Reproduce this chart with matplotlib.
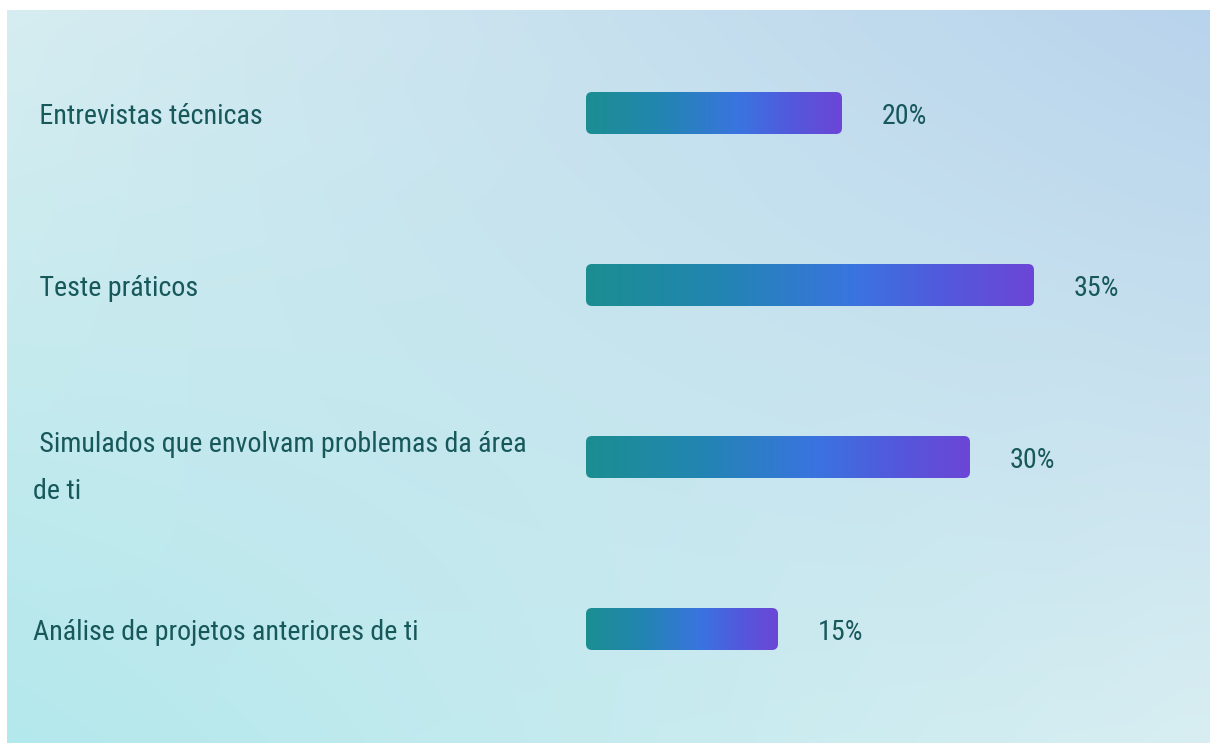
import numpy as np
import matplotlib
matplotlib.use("Agg")
import matplotlib.pyplot as plt
from matplotlib.patches import FancyBboxPatch
from matplotlib.colors import LinearSegmentedColormap, to_rgb
from matplotlib import font_manager as fm
import matplotlib.transforms as mtransforms

# ---- data ----
categories = [
    " Entrevistas técnicas",
    " Teste práticos",
    " Simulados que envolvam problemas da área\nde ti",
    "Análise de projetos anteriores de ti",
]
values = [20, 35, 30, 15]
value_labels = ["20%", "35%", "30%", "15%"]

# ---- style ----
W, H, DPI = 1216, 743, 100
TEXT_COLOR = "#17585b"
PX_PER_UNIT = 12.8          # pixels per percent
BAR_X0_PX = 586             # pixel where bars start
ROW0_PX, ROW_STEP_PX = 113, 172
BAR_H_PX = 42
TARGET_W_PX = 223           # approx. width of "Entrevistas técnicas"
TARGET_EM = 6.6             # desired width in em (condensed look)
BASES = ("Noto Sans", "Roboto", "Open Sans", "Lato", "Inter",
         "DejaVu Sans", "Liberation Sans")

fig = plt.figure(figsize=(W / DPI, H / DPI), dpi=DPI, facecolor="white")
renderer = fig.canvas.get_renderer()


def allowed(name):
    if any(k in name for k in ("Mono", "CJK", "Math", "Symbol", "Display")):
        return False
    for b in BASES:
        if name == b:
            return True
        if name.startswith(b) and ("Condensed" in name or "Narrow" in name):
            return True
    return False


probe = "Entrevistas técnicas"
best = None
seen = set()
for f in fm.fontManager.ttflist:
    if not allowed(f.name) or f.style != "normal":
        continue
    if f.weight not in (400, "normal", "regular", "book"):
        continue
    if f.fname in seen:
        continue
    seen.add(f.fname)
    try:
        prop = fm.FontProperties(fname=f.fname, size=72)
        w, h, d = renderer.get_text_width_height_descent(probe, prop, ismath=False)
    except Exception:
        continue
    em = w / DPI
    score = abs(em - TARGET_EM)
    if best is None or score < best[0]:
        best = (score, f.fname, em)

if best is not None:
    FONT_PATH, em_w = best[1], best[2]
    font_size = min(TARGET_W_PX / em_w * 72 / DPI, 23)

    def fprop():
        return fm.FontProperties(fname=FONT_PATH, size=font_size)
else:
    def fprop():
        return fm.FontProperties(family="DejaVu Sans", size=16)

# background gradient panel (with thin white border like the reference)
bg_ax = fig.add_axes([7 / W, 0, (1210 - 7) / W, (H - 10) / H], zorder=0)
tl, tr = np.array(to_rgb("#d6edf1")), np.array(to_rgb("#b8d3ec"))
bl, br = np.array(to_rgb("#b3e8ec")), np.array(to_rgb("#d8eef2"))
ny, nx = 200, 300
yy, xx = np.mgrid[0:1:ny * 1j, 0:1:nx * 1j]
img = ((1 - yy)[..., None] * ((1 - xx)[..., None] * tl + xx[..., None] * tr)
       + yy[..., None] * ((1 - xx)[..., None] * bl + xx[..., None] * br))
bg_ax.imshow(img, aspect="auto", extent=[0, 1, 1, 0], interpolation="bilinear")
bg_ax.set_axis_off()

# main axes covering whole figure, data coords mapped to pixels
ax = fig.add_axes([0, 0, 1, 1], zorder=1)
ax.patch.set_alpha(0)
ax.set_axis_off()
xmin = -BAR_X0_PX / PX_PER_UNIT
xmax = (W - BAR_X0_PX) / PX_PER_UNIT
ytop = -ROW0_PX / ROW_STEP_PX
ybot = (H - ROW0_PX) / ROW_STEP_PX

bar_h = BAR_H_PX / ROW_STEP_PX
cmap = LinearSegmentedColormap.from_list(
    "bar", [(0.0, "#1b8e91"), (0.3, "#2285b2"), (0.6, "#3a74e0"),
            (0.8, "#5259dc"), (1.0, "#6c46d6")])
grad = np.linspace(0, 1, 256)[None, :]

for i, (cat, v, lab) in enumerate(zip(categories, values, value_labels)):
    patch = FancyBboxPatch((0, i - bar_h / 2), v, bar_h,
                           boxstyle="round,pad=0,rounding_size=0.47",
                           mutation_aspect=PX_PER_UNIT / ROW_STEP_PX,
                           facecolor="none", edgecolor="none")
    ax.add_patch(patch)
    im = ax.imshow(grad, cmap=cmap, aspect="auto",
                   extent=[0, v, i + bar_h / 2, i - bar_h / 2],
                   interpolation="bilinear")
    im.set_clip_path(patch)

    ax.annotate(lab, xy=(v, i), xytext=(40, -3), textcoords="offset pixels",
                ha="left", va="center", fontproperties=fprop(),
                color=TEXT_COLOR)

    trans = ax.get_yaxis_transform()
    dy = -11 if "\n" in cat else -3
    trans = trans + mtransforms.ScaledTranslation(0, dy / DPI, fig.dpi_scale_trans)
    ax.text(33 / W, i, cat, transform=trans, ha="left", va="center",
            fontproperties=fprop(), color=TEXT_COLOR, linespacing=1.95)

ax.set_xlim(xmin, xmax)
ax.set_ylim(ybot, ytop)

fig.savefig("out.png", dpi=DPI, facecolor="white")
